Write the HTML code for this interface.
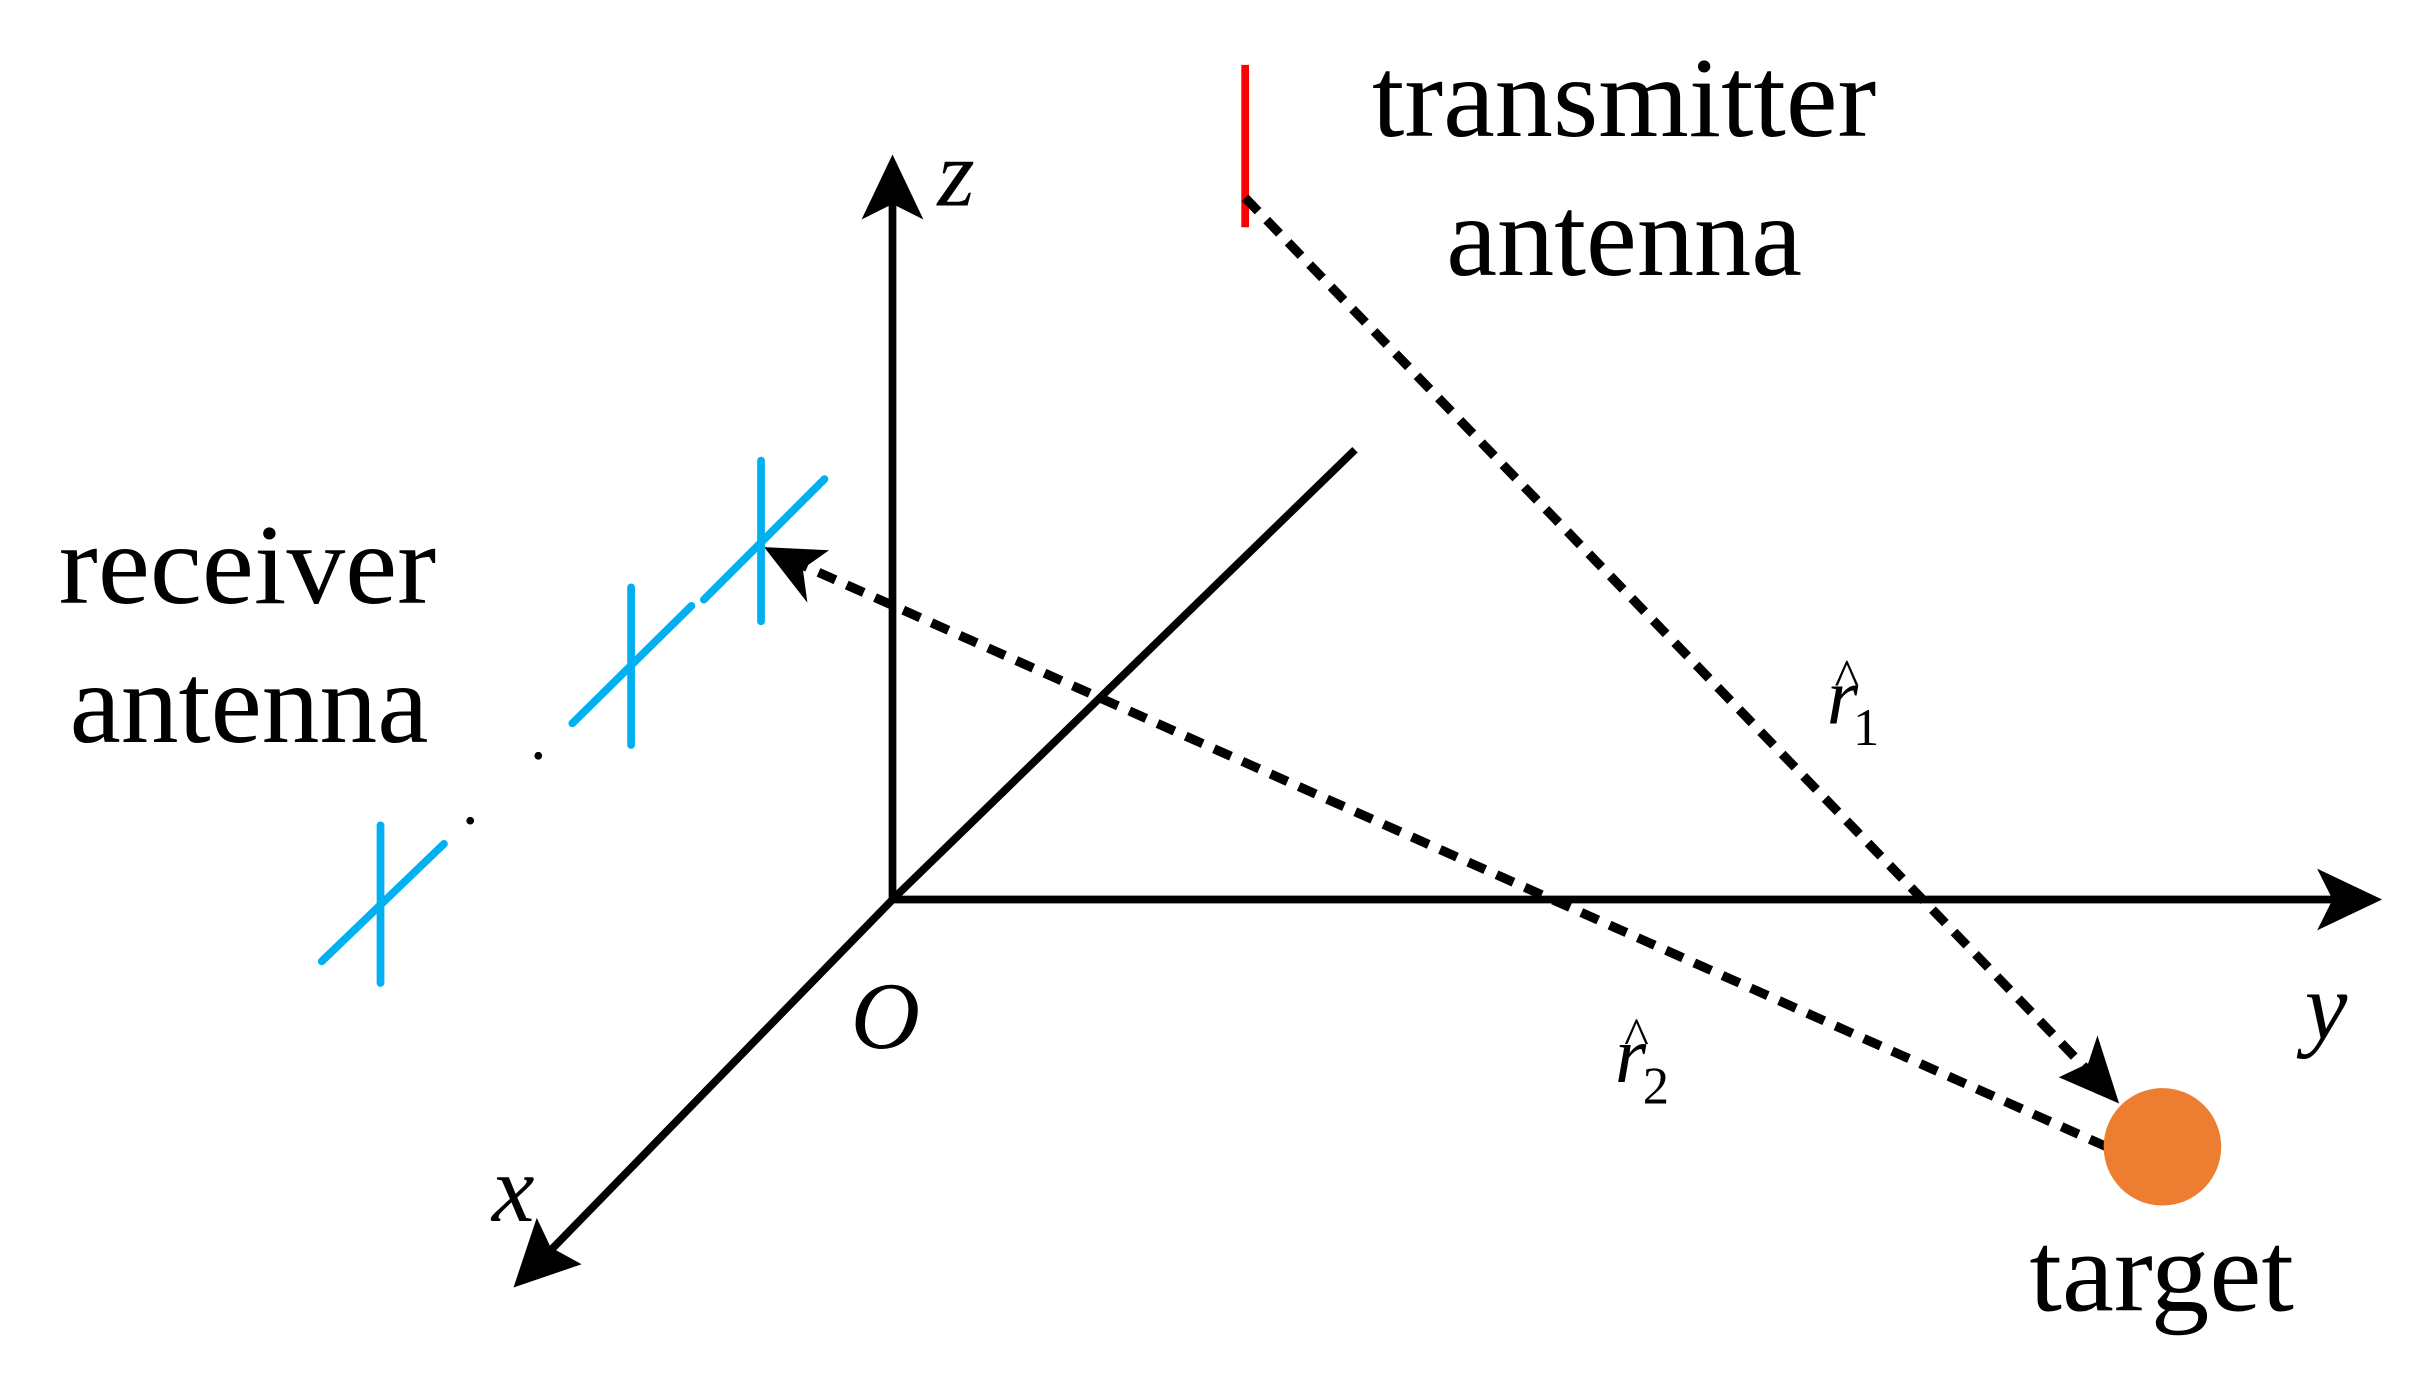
<!DOCTYPE html>
<html><head><style>html,body{margin:0;padding:0;background:#fff}svg{display:block}</style></head>
<body>
<svg width="2413" height="1391" viewBox="0 0 1560 900" preserveAspectRatio="none" xmlns="http://www.w3.org/2000/svg" font-family="Liberation Serif, serif">
<g stroke="#000" stroke-width="5" fill="none">
<line x1="577" y1="582" x2="577" y2="130"/>
<line x1="577" y1="582" x2="1510" y2="582"/>
<line x1="579" y1="580" x2="355" y2="810"/>
<line x1="577" y1="582" x2="876" y2="291"/>
</g>
<g fill="#000">
<polygon points="577,100 557,142 577,132 597,142"/>
<polygon points="1540,582 1498,562 1508,582 1498,602"/>
<polygon points="332,833 347,788 356,807 376,818"/>
</g>
<line x1="805" y1="42" x2="805" y2="147" stroke="#f00" stroke-width="5"/>
<g stroke="#000" stroke-width="6" stroke-dasharray="12,8" fill="none">
<line x1="805" y1="128" x2="1352" y2="695"/>
<line x1="1362" y1="742" x2="515" y2="364"/>
</g>
<polygon points="1370,714 1331,697 1350,688 1356,670" fill="#000"/>
<polygon points="494,354 536,356 519,368 522,390" fill="#000"/>
<circle cx="1398" cy="742" r="38" fill="#ED7D31"/>
<g stroke="#00B0F0" stroke-width="5" stroke-linecap="round">
<line x1="492" y1="298" x2="492" y2="402"/><line x1="455" y1="388" x2="533" y2="310"/>
<line x1="408" y1="380" x2="408" y2="482"/><line x1="370" y1="468" x2="447" y2="392"/>
<line x1="246" y1="534" x2="246" y2="636"/><line x1="208" y1="622" x2="287" y2="546"/>
</g>
<circle cx="348" cy="489" r="2.5" fill="#000"/><circle cx="304" cy="531" r="2.5" fill="#000"/>
<g font-size="74" fill="#000">
<text x="887" y="88" textLength="326" lengthAdjust="spacingAndGlyphs">transmitter</text>
<text x="935" y="178" textLength="230" lengthAdjust="spacingAndGlyphs">antenna</text>
<text x="38" y="390" textLength="244" lengthAdjust="spacingAndGlyphs">receiver</text>
<text x="45" y="480" textLength="232" lengthAdjust="spacingAndGlyphs">antenna</text>
<text x="1312" y="848" textLength="171" lengthAdjust="spacingAndGlyphs">target</text>
</g>
<g font-style="italic" font-size="62" fill="#000">
<text x="550" y="678">O</text>
<text x="606" y="133">z</text>
<text x="1490" y="672">y</text>
<text x="318" y="790">x</text>
<text x="1181" y="468" font-size="52">r</text>
<text x="1044" y="700" font-size="52">r</text>
</g>
<g font-size="34" fill="#000">
<text x="1186" y="450">^</text><text x="1050" y="682">^</text>
<text x="1198" y="482">1</text><text x="1062" y="714">2</text>
</g>
</svg>
</body></html>
